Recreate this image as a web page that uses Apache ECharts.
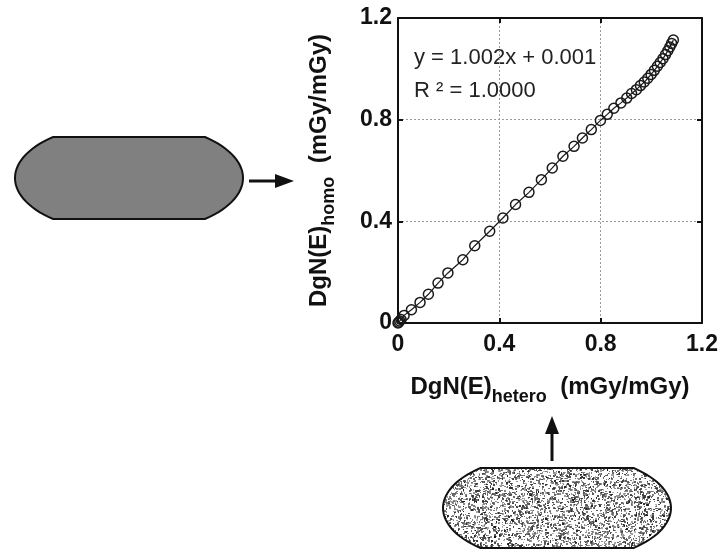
<!DOCTYPE html>
<html>
<head>
<meta charset="utf-8">
<script src="https://cdn.jsdelivr.net/npm/echarts@6/dist/echarts.min.js"></script>
<style>
  html, body { margin: 0; padding: 0; background: #ffffff; }
  #chart { width: 724px; height: 552px; }
</style>
</head>
<body>
<div id="chart"></div>
<script>
// Dose conversion coefficients: heterogeneous (x) vs homogeneous (y) breast model
const hetero = [0, 0.003, 0.007, 0.012, 0.024, 0.053, 0.087, 0.120, 0.158, 0.197,
  0.256, 0.303, 0.362, 0.414, 0.464, 0.517, 0.566, 0.609, 0.651, 0.695,
  0.728, 0.763, 0.799, 0.826, 0.852, 0.880, 0.903, 0.922, 0.941, 0.957,
  0.972, 0.986, 0.999, 1.012, 1.024, 1.035, 1.046, 1.056, 1.065, 1.073,
  1.080, 1.087];
const homo = [0, 0.003, 0.008, 0.014, 0.030, 0.052, 0.081, 0.113, 0.157, 0.197,
  0.249, 0.304, 0.361, 0.413, 0.466, 0.514, 0.564, 0.610, 0.656, 0.695,
  0.728, 0.761, 0.797, 0.821, 0.845, 0.866, 0.885, 0.903, 0.918, 0.934,
  0.948, 0.963, 0.978, 0.994, 1.010, 1.025, 1.040, 1.056, 1.071, 1.086,
  1.100, 1.113];
const axisTicks = [0, 0.4, 0.8, 1.2];
const fitLines = ['y = 1.002x + 0.001', 'R \u00B2 = 1.0000'];

const FONT = '"Liberation Sans", Arial, sans-serif';
const chart = echarts.init(document.getElementById('chart'), null, { renderer: 'canvas' });

// speckled fill for the heterogeneous phantom (deterministic LCG noise, softened)
function speckleCanvas() {
  const raw = document.createElement('canvas');
  raw.width = 240; raw.height = 96;
  const ctx = raw.getContext('2d');
  ctx.fillStyle = '#ffffff';
  ctx.fillRect(0, 0, raw.width, raw.height);
  let s = 12345;
  const rnd = () => { s = (s * 1103515245 + 12345) % 2147483648; return s / 2147483648; };
  for (let i = 0; i < 5200; i++) {
    const x = Math.floor(rnd() * raw.width), y = Math.floor(rnd() * raw.height);
    const g = Math.floor(20 + rnd() * 120);
    ctx.fillStyle = 'rgba(' + g + ',' + g + ',' + g + ',' + (0.55 + rnd() * 0.45) + ')';
    const w = rnd() < 0.5 ? 2 : 1, h = rnd() < 0.5 ? 2 : 1;
    ctx.fillRect(x, y, w, h);
  }
  const out = document.createElement('canvas');
  out.width = raw.width; out.height = raw.height;
  const octx = out.getContext('2d');
  octx.filter = 'blur(0.5px)';
  octx.drawImage(raw, 0, 0);
  return out;
}

// flat-topped elliptical outline (ellipse clipped by two horizontal lines)
function phantomPoints(cx, cy, a, b, h) {
  const t0 = Math.asin(h / b);
  const pts = [];
  const n = 30;
  for (let i = 0; i <= n; i++) {
    const t = -t0 + (2 * t0) * i / n;
    pts.push([cx + a * Math.cos(t), cy + b * Math.sin(t)]);
  }
  for (let i = 0; i <= n; i++) {
    const t = Math.PI - t0 + (2 * t0) * i / n;
    pts.push([cx + a * Math.cos(t), cy + b * Math.sin(t)]);
  }
  return pts;
}

const tickMin = axisTicks[0], tickMax = axisTicks[axisTicks.length - 1], tickStep = axisTicks[1] - axisTicks[0];
const fmt = v => { const k = axisTicks.findIndex(t => Math.abs(t - v) < 1e-9); return k >= 0 ? String(axisTicks[k]) : ''; };

const nameRich = {
  a: { fontFamily: FONT, fontSize: 24, fontWeight: 'bold', color: '#111' },
  b: { fontFamily: FONT, fontSize: 18, fontWeight: 'bold', color: '#111', padding: [20, 0, 0, 0] }
};

const mainAxis = {
  type: 'value', min: tickMin, max: tickMax, interval: tickStep,
  axisLine: { show: true, onZero: false, lineStyle: { color: '#111', width: 2 } },
  axisTick: { show: true, inside: true, length: 5, lineStyle: { color: '#111', width: 2 } },
  splitLine: { show: true, lineStyle: { color: '#9a9a9a', width: 1, type: [2, 2] } },
  axisLabel: { fontFamily: FONT, fontSize: 23, fontWeight: 'bold', color: '#111', formatter: fmt },
  nameLocation: 'middle'
};
const sideAxis = {
  type: 'value', min: tickMin, max: tickMax, interval: tickStep,
  axisLine: { show: true, onZero: false, lineStyle: { color: '#111', width: 2 } },
  axisTick: { show: true, inside: true, length: 5, lineStyle: { color: '#111', width: 2 } },
  splitLine: { show: false },
  axisLabel: { show: false }
};

const leftShape = phantomPoints(129, 178, 114, 55, 41);
const bottomShape = phantomPoints(557, 508, 114, 54, 40);

chart.setOption({
  animation: false,
  backgroundColor: '#ffffff',
  grid: { left: 398, top: 18, width: 304, height: 305 },
  xAxis: [
    Object.assign({}, mainAxis, {
      position: 'bottom',
      axisLabel: Object.assign({}, mainAxis.axisLabel, { margin: 10 }),
      name: '{a|DgN(E)}{b|hetero}{a|  (mGy/mGy)}',
      nameGap: 45,
      nameTextStyle: { rich: nameRich }
    }),
    Object.assign({}, sideAxis, { position: 'top' })
  ],
  yAxis: [
    Object.assign({}, mainAxis, {
      position: 'left',
      axisLabel: Object.assign({}, mainAxis.axisLabel, { margin: 6 }),
      name: '{a|DgN(E)}{b|homo}{a|  (mGy/mGy)}',
      nameGap: 60,
      nameTextStyle: { rich: nameRich }
    }),
    Object.assign({}, sideAxis, { position: 'right' })
  ],
  series: [{
    type: 'line',
    xAxisIndex: 0, yAxisIndex: 0,
    data: hetero.map((x, i) => [x, homo[i]]),
    symbol: 'circle',
    symbolSize: 10,
    showAllSymbol: true,
    clip: false,
    itemStyle: { color: 'rgba(255,255,255,0)', borderColor: '#1a1a1a', borderWidth: 1.5 },
    lineStyle: { color: '#1a1a1a', width: 1.2 },
    emphasis: { disabled: true }
  }],
  graphic: [
    { type: 'text', left: 414, top: 47, style: { text: fitLines[0], fontFamily: FONT, fontSize: 22, fill: '#222' } },
    { type: 'text', left: 414, top: 80, style: { text: fitLines[1], fontFamily: FONT, fontSize: 22, fill: '#222' } },
    { type: 'polygon', shape: { points: leftShape }, style: { fill: '#808080', stroke: '#111', lineWidth: 2 } },
    { type: 'line', shape: { x1: 249, y1: 181, x2: 277, y2: 181 }, style: { stroke: '#111', lineWidth: 3 } },
    { type: 'polygon', shape: { points: [[275, 174], [294, 181], [275, 188]] }, style: { fill: '#111' } },
    { type: 'polygon', shape: { points: bottomShape }, style: { fill: { image: speckleCanvas(), repeat: 'repeat' }, stroke: '#111', lineWidth: 2 } },
    { type: 'line', shape: { x1: 552, y1: 461, x2: 552, y2: 432 }, style: { stroke: '#111', lineWidth: 3 } },
    { type: 'polygon', shape: { points: [[545, 434], [552, 416], [559, 434]] }, style: { fill: '#111' } }
  ]
});
</script>
</body>
</html>
